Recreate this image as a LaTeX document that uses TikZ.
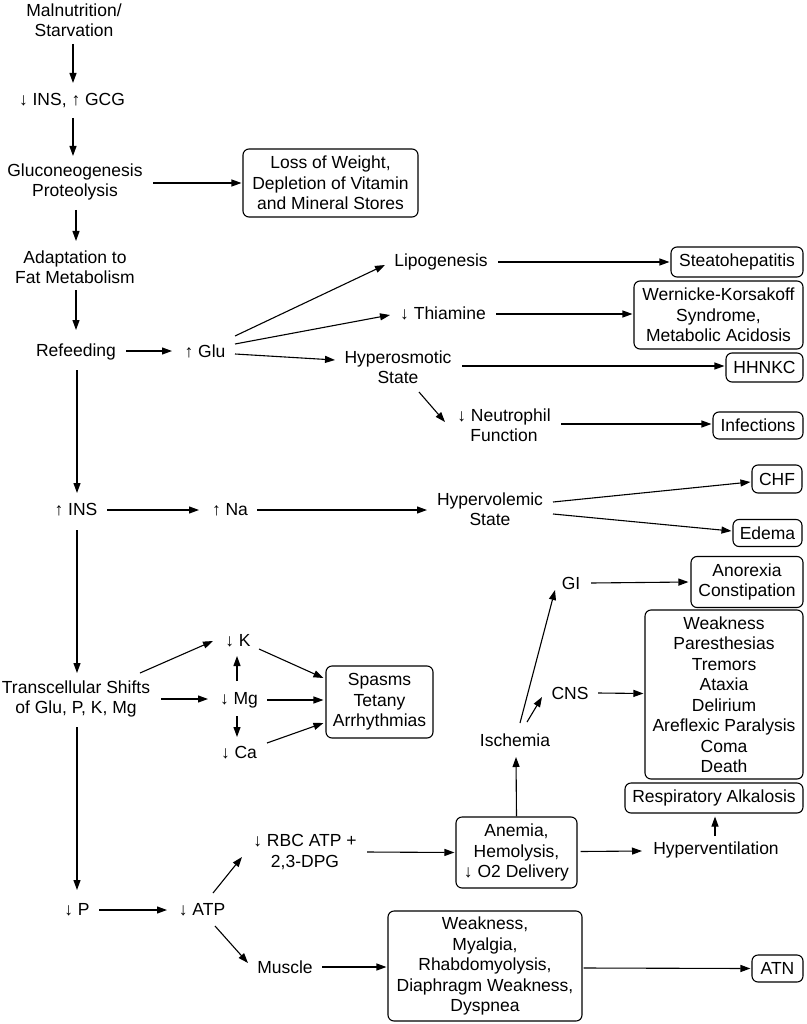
\documentclass[tikz,border=0pt]{standalone}
\usepackage{fontspec}
\setmainfont{Liberation Sans}
\usetikzlibrary{arrows.meta,calc}
\begin{document}
\begin{tikzpicture}[x=1pt,y=-1pt,
  lbl/.style={inner sep=0pt,align=center,font=\fontsize{17.5}{20.5}\selectfont},
  bx/.style={draw,line width=1.1pt,rounded corners=6pt,inner sep=0pt,align=center,font=\fontsize{17.5}{20.5}\selectfont},
  arr/.style={line width=1.1pt,-{Triangle[length=10pt,width=7pt]}}]
\useasboundingbox (0,0) rectangle (806,1024);
% text nodes
\node[lbl] (mal) at (74,20) {Malnutrition/\\Starvation};
\node[lbl] (insgcg) at (72,101) {↓ INS, ↑ GCG};
\node[lbl] (gluco) at (75,182) {Gluconeogenesis\\Proteolysis};
\node[lbl] (adapt) at (75,267) {Adaptation to\\Fat Metabolism};
\node[lbl] (refeed) at (76,352) {Refeeding};
\node[lbl] (glu) at (205,351) {↑ Glu};
\node[lbl] (lip) at (441,262) {Lipogenesis};
\node[lbl] (thia) at (443,313) {↓ Thiamine};
\node[lbl] (hyperos) at (398,367) {Hyperosmotic\\State};
\node[lbl] (neut) at (504,425) {↓ Neutrophil\\Function};
\node[lbl] (ins) at (76,510) {↑ INS};
\node[lbl] (na) at (230,510) {↑ Na};
\node[lbl] (hypervol) at (490,509) {Hypervolemic\\State};
\node[lbl] (trans) at (76,699) {Transcellular Shifts\\of Glu, P, K, Mg};
\node[lbl] (k) at (238,641) {↓ K};
\node[lbl] (mg) at (239,700) {↓ Mg};
\node[lbl] (ca) at (239,753) {↓ Ca};
\node[lbl] (p) at (77,910) {↓ P};
\node[lbl] (atp) at (202,910) {↓ ATP};
\node[lbl] (rbc) at (305,852) {↓ RBC ATP +\\2,3-DPG};
\node[lbl] (hypervent) at (716,850) {Hyperventilation};
\node[lbl] (isch) at (515,740) {Ischemia};
\node[lbl] (gi) at (571,583) {GI};
\node[lbl] (cns) at (570,693) {CNS};
\node[lbl] (muscle) at (285,967) {Muscle};
% boxes
\node[bx,minimum width=175pt,minimum height=68pt] (loss) at (330.5,183) {Loss of Weight,\\Depletion of Vitamin\\and Mineral Stores};
\node[bx,minimum width=132pt,minimum height=30pt] (steato) at (737,262) {Steatohepatitis};
\node[bx,minimum width=169pt,minimum height=68pt] (wern) at (718.5,315) {Wernicke-Korsakoff\\Syndrome,\\Metabolic Acidosis};
\node[bx,minimum width=77pt,minimum height=29pt] (hhnkc) at (764.5,367.5) {HHNKC};
\node[bx,minimum width=90pt,minimum height=27pt] (infect) at (758,425.5) {Infections};
\node[bx,minimum width=50pt,minimum height=28pt] (chf) at (777,479) {CHF};
\node[bx,minimum width=69pt,minimum height=27pt] (edema) at (767.5,533) {Edema};
\node[bx,minimum width=107pt,minimum height=72pt] (spasm) at (379.5,702) {Spasms\\Tetany\\Arrhythmias};
\node[bx,minimum width=112pt,minimum height=51pt] (anor) at (747,582) {Anorexia\\Constipation};
\node[bx,minimum width=158pt,minimum height=169pt] (cnsbox) at (724,694.5) {Weakness\\Paresthesias\\Tremors\\Ataxia\\Delirium\\Areflexic Paralysis\\Coma\\Death};
\node[bx,minimum width=178pt,minimum height=30pt] (resp) at (714,798) {Respiratory Alkalosis};
\node[bx,minimum width=121pt,minimum height=71pt] (anemia) at (516.5,852.5) {Anemia,\\Hemolysis,\\↓ O2 Delivery};
\node[bx,minimum width=194pt,minimum height=110pt] (weak) at (485,966) {Weakness,\\Myalgia,\\Rhabdomyolysis,\\Diaphragm Weakness,\\Dyspnea};
\node[bx,minimum width=51pt,minimum height=27pt] (atn) at (777.5,968.5) {ATN};
% connectors
\draw[arr] ($(mal)+(-1,24)$) -- ($(insgcg)+(1,-18)$);
\draw[arr] ($(insgcg)+(1,17)$) -- ($(gluco)+(-2,-26)$);
\draw[arr] ($(gluco)+(78,1)$) -- ($(loss.west)+(-1,0)$);
\draw[arr] ($(gluco)+(1,28)$) -- ($(adapt)+(1,-26)$);
\draw[arr] ($(adapt)+(1,23)$) -- ($(refeed)+(0,-22)$);
\draw[arr] ($(refeed)+(50,-1)$) -- ($(glu)+(-33,0)$);
\draw[arr] ($(glu)+(30,-15)$) -- ($(lip)+(-56,3)$);
\draw[arr] ($(glu)+(30,-7)$) -- ($(thia)+(-53,2)$);
\draw[arr] ($(glu)+(30,3)$) -- ($(hyperos)+(-63,-7)$);
\draw[arr] ($(lip)+(57,0)$) -- ($(steato.west)+(-1,0)$);
\draw[arr] ($(thia)+(53,1)$) -- ($(wern.west)+(-1,-1)$);
\draw[arr] ($(hyperos)+(64,-1)$) -- ($(hhnkc.west)+(-1,-1.5)$);
\draw[arr] ($(hyperos)+(21,25)$) -- ($(neut)+(-59,-3)$);
\draw[arr] ($(neut)+(57,-1)$) -- ($(infect.west)+(-1,-1.5)$);
\draw[arr] ($(refeed)+(1,18)$) -- ($(ins)+(1,-17)$);
\draw[arr] ($(ins)+(31,0)$) -- ($(na)+(-31,0)$);
\draw[arr] ($(na)+(27,0)$) -- ($(hypervol)+(-63,1)$);
\draw[arr] ($(hypervol)+(63,-7)$) -- ($(chf.west)+(-1,3)$);
\draw[arr] ($(hypervol)+(63,5)$) -- ($(edema.west)+(-1,-2)$);
\draw[arr] ($(ins)+(1,20)$) -- ($(trans)+(1,-26)$);
\draw[arr] ($(trans)+(64,-26)$) -- ($(k)+(-25,0)$);
\draw[arr] ($(trans)+(85,0)$) -- ($(mg)+(-31,-1)$);
\draw[arr] ($(mg)+(-2,-19)$) -- ($(k)+(-1,15)$);
\draw[arr] ($(mg)+(-2,16)$) -- ($(ca)+(-2,-16)$);
\draw[arr] ($(k)+(21,8)$) -- ($(spasm.west)+(-2,-24)$);
\draw[arr] ($(mg)+(28,0)$) -- ($(spasm.west)+(-2,-2)$);
\draw[arr] ($(ca)+(28,-10)$) -- ($(spasm.west)+(-2,21)$);
\draw[arr] ($(trans)+(1,28)$) -- ($(p)+(0,-20)$);
\draw[arr] ($(p)+(22,0)$) -- ($(atp)+(-35,0)$);
\draw[arr] ($(atp)+(11,-17)$) -- ($(rbc)+(-63,5)$);
\draw[arr] ($(atp)+(13,16)$) -- ($(muscle)+(-37,-4)$);
\draw[arr] ($(rbc)+(62,0)$) -- ($(anemia.west)+(-1,0)$);
\draw[arr] ($(anemia.east)+(3,-1)$) -- ($(hypervent)+(-74,1)$);
\draw[arr] ($(hypervent)+(-1,-14)$) -- ($(resp.south)+(1,3)$);
\draw[arr] (anemia.north) -- ($(isch)+(1,17)$);
\draw[arr] ($(isch)+(5,-17)$) -- ($(gi)+(-16,7)$);
\draw[arr] ($(isch)+(12,-18)$) -- ($(cns)+(-28,4)$);
\draw[arr] ($(gi)+(20,0)$) -- ($(anor.west)+(-2,0)$);
\draw[arr] ($(cns)+(28,0)$) -- ($(cnsbox.west)+(-1,-1)$);
\draw[arr] ($(muscle)+(37,0)$) -- ($(weak.west)+(-1,1)$);
\draw[arr] ($(weak.east)+(1,2)$) -- ($(atn.west)+(-1,0)$);
\end{tikzpicture}
\end{document}
